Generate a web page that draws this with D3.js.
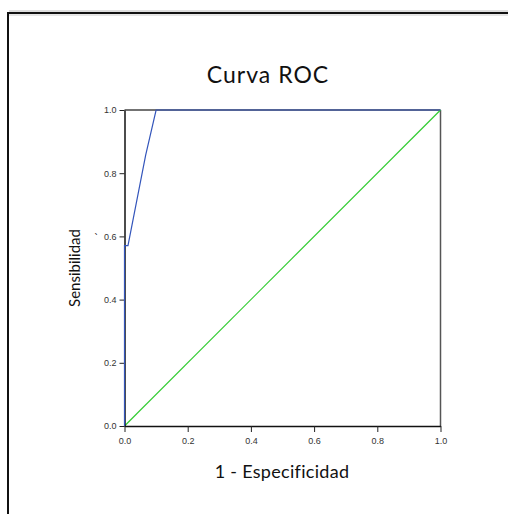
<!DOCTYPE html>
<html>
<head>
<meta charset="utf-8">
<script src="https://cdn.jsdelivr.net/npm/d3@7"></script>
<style>
  body { margin: 0; background: #fff; }
  svg { display: block; }
</style>
</head>
<body>
<div id="chart"></div>
<script>
// dati della curva ROC (1 - specificità, sensibilità)
const rocFpr = [0, 0, 0.011, 0.067, 0.1, 1];
const rocTpr = [0, 0.571, 0.571, 0.857, 1, 1];
const refLine = [0, 1];
const tickValues = [0, 0.2, 0.4, 0.6, 0.8, 1.0];

const width = 508, height = 514;
const svg = d3.select("#chart").append("svg").attr("width", width).attr("height", height);

// cornice esterna
svg.append("path").attr("d", "M8,514 V13 H508").attr("fill", "none").attr("stroke", "#111").attr("stroke-width", 2);
svg.append("line").attr("x1", 9).attr("x2", 508).attr("y1", 11).attr("y2", 11).attr("stroke", "#bbb");
svg.append("line").attr("x1", 9).attr("x2", 508).attr("y1", 15).attr("y2", 15).attr("stroke", "#ccc");

const x = d3.scaleLinear().domain([0, 1]).range([124.5, 440.5]);
const y = d3.scaleLinear().domain([0, 1]).range([426, 110]);

// riquadro superiore e destro
svg.append("line").attr("x1", x(0)).attr("x2", x(1)).attr("y1", y(1)).attr("y2", y(1)).attr("stroke", "#444").attr("stroke-width", 1.5);
svg.append("line").attr("x1", x(1)).attr("x2", x(1)).attr("y1", y(1)).attr("y2", y(0)).attr("stroke", "#555").attr("stroke-width", 1.5);

// linea di riferimento
svg.append("line")
  .attr("x1", x(refLine[0])).attr("y1", y(refLine[0]))
  .attr("x2", x(refLine[1])).attr("y2", y(refLine[1]))
  .attr("stroke", "#33cc33").attr("stroke-width", 1.2);

// assi
const xAxis = svg.append("g").attr("transform", `translate(0,${y(0)})`)
  .call(d3.axisBottom(x).tickValues(tickValues).tickFormat(d3.format(".1f")).tickSize(5).tickSizeOuter(0));
const yAxis = svg.append("g").attr("transform", `translate(${x(0)},0)`)
  .call(d3.axisLeft(y).tickValues(tickValues).tickFormat(d3.format(".1f")).tickSize(5).tickSizeOuter(0));
[xAxis, yAxis].forEach((g) => {
  g.attr("font-family", "Liberation Sans, Arial, sans-serif").attr("font-size", 9);
  g.select(".domain").attr("stroke", "#111").attr("stroke-width", 1.5);
  g.selectAll(".tick line").attr("stroke", "#222");
  g.selectAll(".tick text").attr("fill", "#333");
});
xAxis.selectAll(".tick text").attr("dy", "1.1em");
xAxis.selectAll(".tick line").attr("y2", 6);

// curva ROC
const rocData = rocFpr.map((v, i) => [v, rocTpr[i]]);
svg.append("path")
  .datum(rocData)
  .attr("d", d3.line().x((d) => x(d[0])).y((d) => y(d[1])))
  .attr("fill", "none").attr("stroke", "#3355bb").attr("stroke-width", 1.2);

// segno spurio vicino a 0.6
svg.append("text").attr("x", 94).attr("y", 242).attr("font-family", "DejaVu Sans, sans-serif")
  .attr("font-size", 10).attr("fill", "#222").text("`");

// titoli
svg.append("text").attr("x", 268).attr("y", 83).attr("text-anchor", "middle")
  .attr("font-family", "Lato, sans-serif").attr("font-size", 23).attr("letter-spacing", 1)
  .attr("fill", "#111").text("Curva ROC");
svg.append("text").attr("x", 282).attr("y", 478).attr("text-anchor", "middle")
  .attr("font-family", "Lato, sans-serif").attr("font-size", 18).attr("letter-spacing", 0.3)
  .attr("fill", "#111").text("1 - Especificidad");
svg.append("text").attr("transform", "translate(80,268) rotate(-90)").attr("text-anchor", "middle")
  .attr("font-family", "Lato, sans-serif").attr("font-size", 15)
  .attr("fill", "#111").text("Sensibilidad");
</script>
</body>
</html>
